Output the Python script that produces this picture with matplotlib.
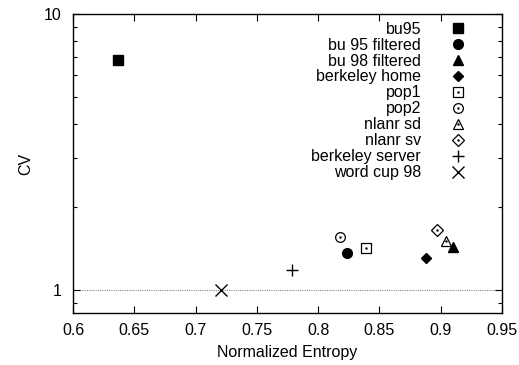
import matplotlib
matplotlib.use("Agg")
import matplotlib.pyplot as plt
from matplotlib.ticker import LogLocator, NullFormatter, FixedLocator

plt.rcParams['font.family'] = ['Liberation Sans', 'DejaVu Sans']

names = ["bu95", "bu 95 filtered", "bu 98 filtered", "berkeley home", "pop1",
         "pop2", "nlanr sd", "nlanr sv", "berkeley server", "word cup 98"]
entropy = [0.637, 0.824, 0.910, 0.888, 0.839, 0.818, 0.904, 0.897, 0.779, 0.721]
cv = [6.8, 1.36, 1.43, 1.30, 1.42, 1.55, 1.51, 1.65, 1.18, 1.00]

# marker, filled, size, center dot
styles = [("s", True, 7.5, False), ("o", True, 7, False), ("^", True, 6.5, False),
          ("D", True, 5, False), ("s", False, 7, True), ("o", False, 7, True),
          ("^", False, 7, True), ("D", False, 6, True), ("+", True, 8, False),
          ("x", True, 8, False)]

fig = plt.figure(figsize=(5.19, 3.65), dpi=100)
ax = fig.add_axes([0.1407, 0.1425, 0.8263, 0.8191])

ax.axhline(1, color="#888888", linestyle=(0, (1, 1)), linewidth=0.8, zorder=1)

handles = []
for x, y, name, (m, filled, ms, dot) in zip(entropy, cv, names, styles):
    if filled:
        h, = ax.plot([x], [y], linestyle="none", marker=m, markersize=ms,
                     color="black", markeredgewidth=1.0, zorder=3)
        handles.append(h)
    else:
        h, = ax.plot([x], [y], linestyle="none", marker=m, markersize=ms,
                     markerfacecolor="white", markeredgecolor="black",
                     markeredgewidth=0.9, zorder=3)
        d, = ax.plot([x], [y], linestyle="none", marker=".", markersize=1.5,
                     color="black", zorder=4)
        handles.append((h, d))

ax.set_yscale("log")
ax.set_xlim(0.6, 0.95)
ax.set_ylim(0.825, 10)
ax.set_xticks([0.6, 0.65, 0.7, 0.75, 0.8, 0.85, 0.9, 0.95])
ax.set_xticklabels(["0.6", "0.65", "0.7", "0.75", "0.8", "0.85", "0.9", "0.95"])
ax.yaxis.set_major_locator(FixedLocator([1, 10]))
ax.set_yticklabels(["1", "10"])
ax.yaxis.set_minor_locator(LogLocator(base=10, subs=range(2, 10)))
ax.yaxis.set_minor_formatter(NullFormatter())

ax.tick_params(which="both", direction="in", top=True, right=True, labelsize=11.5)
ax.tick_params(which="major", length=5, width=0.8)
ax.tick_params(which="minor", length=3, width=0.8)
ax.tick_params(axis="x", pad=7)
ax.tick_params(axis="y", pad=8)
for s in ax.spines.values():
    s.set_linewidth(1.0)

ax.set_xlabel("Normalized Entropy", fontsize=11.5, labelpad=5)
ax.set_ylabel("CV", fontsize=11.5, labelpad=8)

ax.legend(handles, names, loc="upper right", bbox_to_anchor=(0.942, 1.012),
          frameon=False, markerfirst=False, fontsize=11.5, labelspacing=0.06,
          handlelength=1.0, handletextpad=1.8, borderpad=0.2)

fig.savefig("out.png", dpi=100)
